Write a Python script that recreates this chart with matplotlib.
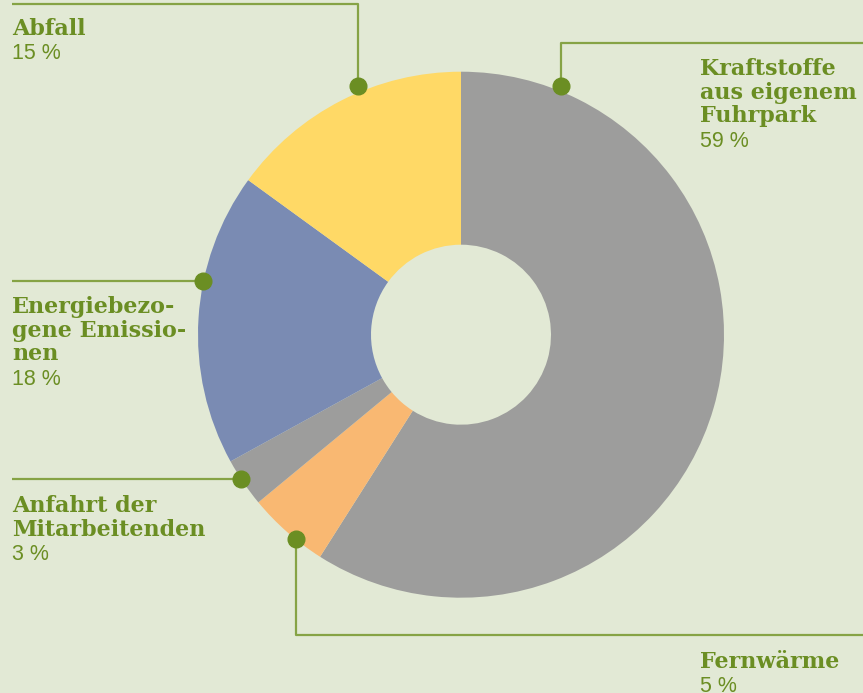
import numpy as np
import matplotlib
matplotlib.use('Agg')
from matplotlib import pyplot as plt

# data
labels = [['Kraftstoffe', 'aus eigenem', 'Fuhrpark'], ['Fernwärme'],
          ['Anfahrt der', 'Mitarbeitenden'],
          ['Energiebezo-', 'gene Emissio-', 'nen'], ['Abfall']]
shares = [59, 5, 3, 18, 15]
colors = ['#9d9d9c', '#f9b872', '#9d9d9c', '#7a8bb3', '#ffd966']

# layout (pixel space, y measured from top)
W, H = 863, 693
bg = '#e2e9d5'
green = '#6b8e23'
line_green = '#86a345'
cx, cy = 461, 334.7
R, r_in = 263, 90

# where each leader starts (degrees, math convention) and at which radius
dot_angles = [68.1, 231.1, 213.3, 168.2, 112.4]
dot_radii = [268, 263, 263, 264, 269]
# leader routes after the dot
routes = [
    [('v', 43), ('h', 863)],
    [('v', 635), ('h', 863)],
    [('h', 12)],
    [('h', 12)],
    [('v', 4), ('h', 12)],
]
# x and first baseline of each label block
text_pos = [(700, 75), (700, 668), (12, 512), (12, 313), (12, 35)]
pitch = 23.7

fig = plt.figure(figsize=(W / 100, H / 100), dpi=100, facecolor=bg)
ax = fig.add_axes([0, 0, 1, 1])

def Y(y):
    return H - y

ax.pie(shares, colors=colors, startangle=90, counterclock=False,
       center=(cx, Y(cy)), radius=R, frame=True,
       wedgeprops=dict(width=R - r_in, linewidth=0))
ax.set_xlim(0, W)
ax.set_ylim(0, H)
ax.set_aspect('equal')
ax.axis('off')

for lines, val, ang, rd, route, (tx, ty) in zip(labels, shares, dot_angles, dot_radii,
                                                routes, text_pos):
    x0 = cx + rd * np.cos(np.radians(ang))
    y0 = Y(cy) + rd * np.sin(np.radians(ang))
    xs, ys = [x0], [y0]
    for kind, v in route:
        if kind == 'v':
            xs.append(xs[-1]); ys.append(Y(v))
        else:
            xs.append(v); ys.append(ys[-1])
    ax.plot(xs, ys, color=line_green, lw=1.6, solid_capstyle='butt', zorder=3)
    ax.plot([x0], [y0], 'o', color=green, markersize=12, zorder=4)
    for i, ln in enumerate(lines):
        ax.text(tx, Y(ty + i * pitch), ln, ha='left', va='baseline', color=green,
                fontsize=16, fontweight='bold', family='DejaVu Serif')
    ax.text(tx, Y(ty + len(lines) * pitch + 0.5), f'{val} %', ha='left',
            va='baseline', color=green, fontsize=15.5, family='Liberation Sans')

fig.savefig('out.png', dpi=100, facecolor=bg)
